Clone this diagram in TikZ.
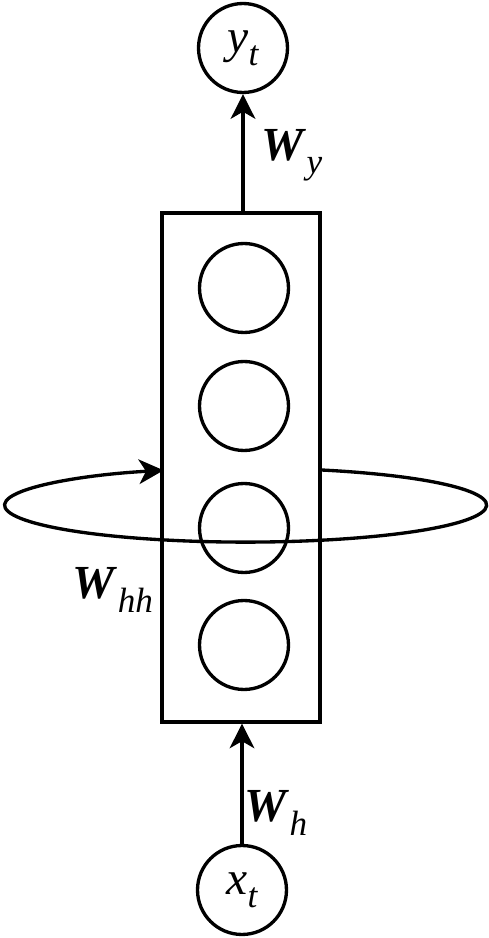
\documentclass[tikz,border=0pt]{standalone}
\usepackage{fontspec}
\setmainfont{Liberation Serif}
\newfontfamily\labelfont{Liberation Serif}
\usetikzlibrary{arrows.meta}
\newcommand{\lowsub}[1]{\raisebox{-0.6ex}{\fontsize{20}{22}\selectfont\itshape #1}}
\begin{document}
\begin{tikzpicture}[x=0.02cm,y=0.02cm,line width=1.9pt,
    font=\labelfont\fontsize{27}{30}\selectfont,
    unit/.style={draw,circle,minimum size=1.78cm,inner sep=0pt},
    flow/.style={-{Stealth[length=14pt,width=14pt,inset=4pt]}}]
  \useasboundingbox (0,0) rectangle (488,938);
  % Output unit
  \node[unit] (yt) at (243,890) {\textit{y}\lowsub{t}};
  % Hidden layer with its units
  \node[draw,minimum width=3.16cm,minimum height=10.18cm,inner sep=0pt] (box) at (241,470.5) {};
  \foreach \i/\y in {1/650,2/532,3/410,4/293}
    \node[unit] (h\i) at (244,\y) {};
  % Input unit
  \node[unit] (xt) at (242,48) {\textit{x}\lowsub{t}};
  % Connectors
  \draw[flow] (xt.north) -- (xt.north |- box.south);
  \draw[flow] (yt.south |- box.north) -- (yt.south);
  \draw[flow] (box.east |- 0,468) arc[start angle=71.6, end angle=-250.1, x radius=241, y radius=37];
  % Weight labels
  \node (wy) at (292,783) {\textbf{\textit{W}}\lowsub{y}};
  \node (whh) at (113,348) {\textbf{\textit{W}}\lowsub{hh}};
  \node (wh) at (276,125) {\textbf{\textit{W}}\lowsub{h}};
\end{tikzpicture}
\end{document}
